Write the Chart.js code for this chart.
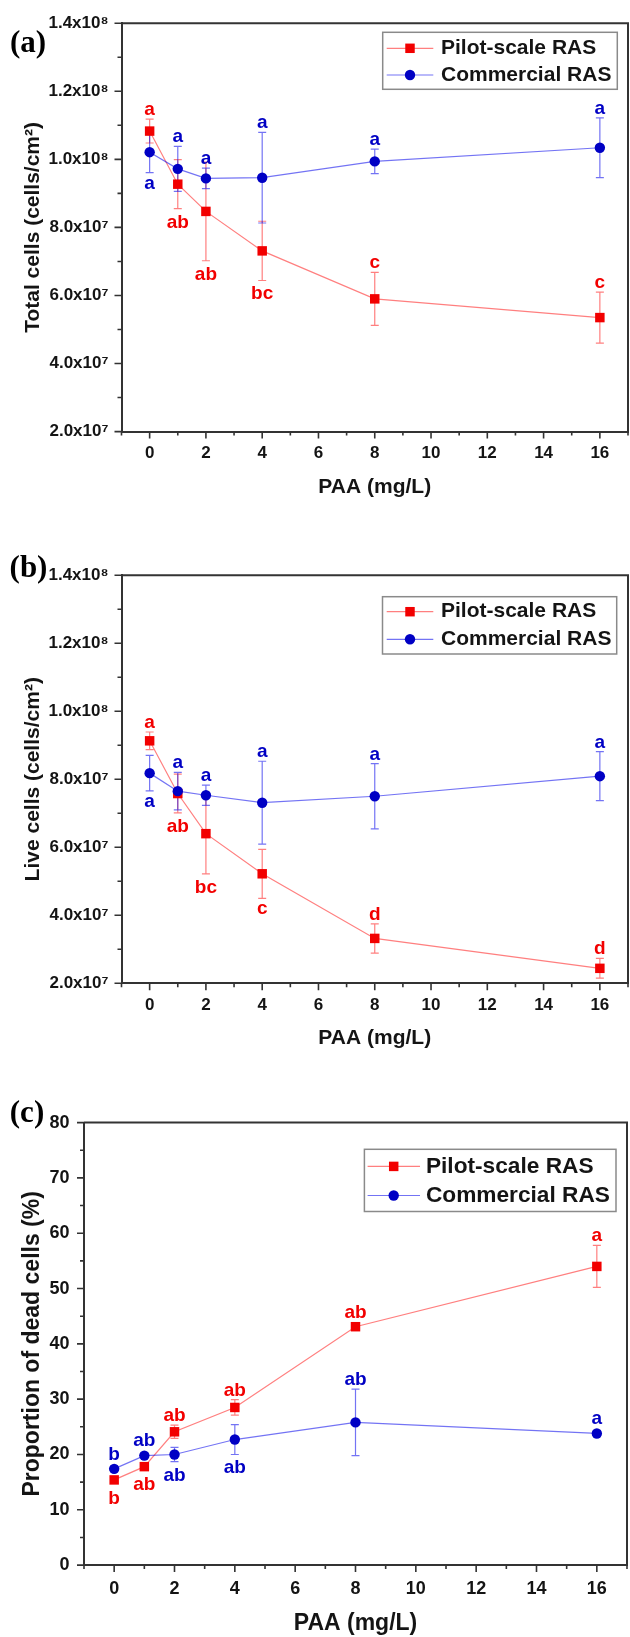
<!DOCTYPE html>
<html>
<head>
<meta charset="utf-8">
<script src="https://cdn.jsdelivr.net/npm/chart.js@4.4.1/dist/chart.umd.min.js"></script>
<style>
  html, body { margin: 0; padding: 0; background: #fff; overflow: hidden; width: 630px; height: 1637px; }
  canvas { position: absolute; left: 0; }
</style>
</head>
<body>
<canvas id="chartTotal" width="640" height="552" style="top:0px"></canvas>
<canvas id="chartLive" width="640" height="540" style="top:552px"></canvas>
<canvas id="chartDead" width="640" height="548" style="top:1092px"></canvas>
<script>
// ---------------- data ----------------
const paaDoses = [0, 1, 2, 4, 8, 16];
const seriesNames = ['Pilot-scale RAS', 'Commercial RAS'];

// (a) total cells, cells/cm²  (mean and SD)
const pilotTotal   = [1.083e8, 0.927e8, 0.847e8, 0.731e8, 0.590e8, 0.535e8];
const pilotTotalSd = [0.035e8, 0.072e8, 0.145e8, 0.087e8, 0.078e8, 0.075e8];
const commTotal    = [1.021e8, 0.972e8, 0.944e8, 0.946e8, 0.994e8, 1.034e8];
const commTotalSd  = [0.060e8, 0.066e8, 0.030e8, 0.133e8, 0.036e8, 0.088e8];
const pilotTotalLetters = ['a', 'ab', 'ab', 'bc', 'c', 'c'];
const commTotalLetters  = ['a', 'a', 'a', 'a', 'a', 'a'];

// (b) live cells, cells/cm²
const pilotLive   = [0.913e8, 0.758e8, 0.640e8, 0.522e8, 0.332e8, 0.244e8];
const pilotLiveSd = [0.026e8, 0.057e8, 0.118e8, 0.072e8, 0.043e8, 0.029e8];
const commLive    = [0.818e8, 0.765e8, 0.753e8, 0.731e8, 0.750e8, 0.809e8];
const commLiveSd  = [0.052e8, 0.055e8, 0.030e8, 0.122e8, 0.096e8, 0.072e8];
const pilotLiveLetters = ['a', 'ab', 'bc', 'c', 'd', 'd'];
const commLiveLetters  = ['a', 'a', 'a', 'a', 'a', 'a'];

// (c) proportion of dead cells, %
const pilotDead   = [15.4, 17.8, 24.1, 28.5, 43.1, 54.0];
const pilotDeadSd = [0.6, 0.7, 1.2, 1.4, 0.6, 3.8];
const commDead    = [17.4, 19.8, 20.0, 22.7, 25.8, 23.8];
const commDeadSd  = [0.5, 0.5, 1.3, 2.7, 6.0, 0.5];
const pilotDeadLetters = ['b', 'ab', 'ab', 'ab', 'ab', 'a'];
const commDeadLetters  = ['b', 'ab', 'ab', 'ab', 'ab', 'a'];

// tick labels
const doseTickValues = [0, 2, 4, 6, 8, 10, 12, 14, 16];
const doseTickLabels = ['0', '2', '4', '6', '8', '10', '12', '14', '16'];
const cellTickValues = [2e7, 4e7, 6e7, 8e7, 1.0e8, 1.2e8, 1.4e8];
const cellTickLabels = ['2.0x10⁷', '4.0x10⁷', '6.0x10⁷', '8.0x10⁷', '1.0x10⁸', '1.2x10⁸', '1.4x10⁸'];
const deadTickValues = [0, 10, 20, 30, 40, 50, 60, 70, 80];
const deadTickLabels = ['0', '10', '20', '30', '40', '50', '60', '70', '80'];

// ---------------- styling ----------------
const SANS = "'Liberation Sans', Arial, Helvetica, sans-serif";
const SERIF = "'Liberation Serif', 'Times New Roman', serif";
const INK = '#141414';
const AXIS = '#333333';
const RED = '#f20000';
const BLUE = '#0000c4';
const RED_SOFT = 'rgba(255, 0, 0, 0.5)';
const BLUE_SOFT = 'rgba(0, 0, 235, 0.55)';
const SQUARE_R = 6.7;   // rect point radius -> ~9.5px square
const CIRCLE_R = 5.2;

function labelFor(values, labels, v, step) {
  const k = values.findIndex(t => Math.abs(t - v) < step * 1e-3);
  return k >= 0 ? labels[k] : '';
}

// error bars, drawn under the markers
const errorBarPlugin = {
  id: 'errorBars',
  beforeDatasetsDraw(chart) {
    const { ctx } = chart;
    const ys = chart.scales.y;
    chart.data.datasets.forEach((ds, i) => {
      const meta = chart.getDatasetMeta(i);
      ctx.save();
      ctx.strokeStyle = ds.errorColor;
      ctx.lineWidth = 1.2;
      ds.data.forEach((pt, j) => {
        const px = meta.data[j].x;
        const top = ys.getPixelForValue(pt.y + ds.errors[j]);
        const bot = ys.getPixelForValue(pt.y - ds.errors[j]);
        ctx.beginPath();
        ctx.moveTo(px, top); ctx.lineTo(px, bot);
        ctx.moveTo(px - 4, top); ctx.lineTo(px + 4, top);
        ctx.moveTo(px - 4, bot); ctx.lineTo(px + 4, bot);
        ctx.stroke();
      });
      ctx.restore();
    });
  }
};

// significance letters above / below each point
const letterPlugin = {
  id: 'sigLetters',
  afterDatasetsDraw(chart, args, opts) {
    const { ctx } = chart;
    const ys = chart.scales.y;
    ctx.save();
    ctx.font = `bold ${opts.size}px ${SANS}`;
    ctx.textAlign = 'center';
    ctx.textBaseline = 'alphabetic';
    chart.data.datasets.forEach((ds, i) => {
      const meta = chart.getDatasetMeta(i);
      ctx.fillStyle = ds.letterColor;
      ds.data.forEach((pt, j) => {
        const txt = ds.letters[j];
        const el = meta.data[j];
        const top = Math.min(ys.getPixelForValue(pt.y + ds.errors[j]), el.y - ds.markerHalf);
        const bot = Math.max(ys.getPixelForValue(pt.y - ds.errors[j]), el.y + ds.markerHalf);
        if (ds.letterSide[j] === 'up') {
          ctx.fillText(txt, el.x, top - 4);
        } else {
          const asc = ctx.measureText(txt).actualBoundingBoxAscent;
          ctx.fillText(txt, el.x, bot + 6 + asc);
        }
      });
    });
    ctx.restore();
  }
};

// box frame plus major / minor tick marks
const framePlugin = {
  id: 'frameTicks',
  afterDraw(chart) {
    const { ctx, chartArea: a } = chart;
    ctx.save();
    ctx.strokeStyle = AXIS;
    ctx.lineWidth = 2;
    ctx.beginPath();
    ctx.moveTo(a.left, a.top); ctx.lineTo(a.right, a.top); ctx.lineTo(a.right, a.bottom);
    ctx.stroke();
    ctx.lineWidth = 1.6;
    const xs = chart.scales.x, ys = chart.scales.y;
    ctx.beginPath();
    xs.ticks.forEach(t => {
      const p = xs.getPixelForValue(t.value);
      const len = t.label !== '' ? 7 : 4;
      ctx.moveTo(p, a.bottom); ctx.lineTo(p, a.bottom + len);
    });
    ys.ticks.forEach(t => {
      const p = ys.getPixelForValue(t.value);
      const len = t.label !== '' ? 7 : 4;
      ctx.moveTo(a.left, p); ctx.lineTo(a.left - len, p);
    });
    ctx.stroke();
    ctx.restore();
  }
};

// framed legend inside the plot
const boxLegendPlugin = {
  id: 'boxLegend',
  afterDraw(chart, args, o) {
    const { ctx } = chart;
    const [x0, y0, x1, y1] = o.box;
    ctx.save();
    ctx.fillStyle = '#fff';
    ctx.fillRect(x0, y0, x1 - x0, y1 - y0);
    ctx.strokeStyle = '#8a8a8a';
    ctx.lineWidth = 1.5;
    ctx.strokeRect(x0, y0, x1 - x0, y1 - y0);
    ctx.font = `bold ${o.size}px ${SANS}`;
    ctx.textAlign = 'left';
    ctx.textBaseline = 'middle';
    chart.data.datasets.forEach((ds, i) => {
      const ry = o.rows[i];
      ctx.strokeStyle = ds.borderColor;
      ctx.lineWidth = 1.2;
      ctx.beginPath(); ctx.moveTo(o.line[0], ry); ctx.lineTo(o.line[1], ry); ctx.stroke();
      ctx.fillStyle = ds.pointBackgroundColor;
      ctx.beginPath();
      if (ds.pointStyle === 'rect') {
        const h = ds.markerHalf;
        ctx.rect(o.marker - h, ry - h, 2 * h, 2 * h);
      } else {
        ctx.arc(o.marker, ry, ds.markerHalf, 0, Math.PI * 2);
      }
      ctx.fill();
      ctx.fillStyle = INK;
      ctx.fillText(ds.label, o.text, ry);
    });
    ctx.restore();
  }
};

// panel letter (a), (b), (c)
const panelTagPlugin = {
  id: 'panelTag',
  afterDraw(chart, args, o) {
    const { ctx } = chart;
    ctx.save();
    ctx.font = `bold ${o.size}px ${SERIF}`;
    ctx.fillStyle = '#000';
    ctx.textAlign = 'center';
    ctx.textBaseline = 'middle';
    ctx.fillText(o.text, o.x, o.y);
    ctx.restore();
  }
};

function makeDataset(i, values, sds, letters, sides) {
  const pilot = i === 0;
  return {
    label: seriesNames[i],
    data: paaDoses.map((d, j) => ({ x: d, y: values[j] })),
    errors: sds,
    letters: letters,
    letterSide: sides,
    letterColor: pilot ? RED : BLUE,
    errorColor: pilot ? RED_SOFT : BLUE_SOFT,
    borderColor: pilot ? RED_SOFT : BLUE_SOFT,
    borderWidth: 1.2,
    pointStyle: pilot ? 'rect' : 'circle',
    pointRadius: pilot ? SQUARE_R : CIRCLE_R,
    pointHoverRadius: pilot ? SQUARE_R : CIRCLE_R,
    markerHalf: pilot ? SQUARE_R * Math.SQRT1_2 : CIRCLE_R,
    pointBackgroundColor: pilot ? RED : BLUE,
    pointBorderColor: pilot ? RED : BLUE,
    pointBorderWidth: 0,
    tension: 0,
    fill: false,
    clip: false,
    order: pilot ? 1 : 0
  };
}

function makePanel(p) {
  const H = p.height, W = 640;
  new Chart(document.getElementById(p.id), {
    type: 'line',
    data: {
      datasets: [
        makeDataset(0, p.series[0], p.sds[0], p.letters[0], p.sides[0]),
        makeDataset(1, p.series[1], p.sds[1], p.letters[1], p.sides[1])
      ]
    },
    options: {
      responsive: false,
      devicePixelRatio: 1,
      animation: false,
      events: [],
      layout: { padding: { top: p.area.top, right: W - p.area.right, left: 0, bottom: 0 } },
      scales: {
        x: {
          type: 'linear',
          min: -1, max: 17,
          grid: { display: false, drawTicks: false },
          border: { display: true, color: AXIS, width: 2 },
          ticks: {
            stepSize: 1, autoSkip: false, maxRotation: 0, minRotation: 0, maxTicksLimit: 100,
            padding: p.xTickPad, color: INK,
            font: { family: SANS, size: p.fonts.tick, weight: 'bold' },
            callback: v => labelFor(doseTickValues, doseTickLabels, v, 1)
          },
          title: {
            display: true, text: 'PAA (mg/L)', color: INK,
            font: { family: SANS, size: p.fonts.title, weight: 'bold' },
            padding: { top: 0, bottom: p.xTitlePad }
          },
          afterFit: s => { s.height = H - p.area.bottom; }
        },
        y: {
          type: 'linear',
          min: p.yMin, max: p.yMax,
          grid: { display: false, drawTicks: false },
          border: { display: true, color: AXIS, width: 2 },
          ticks: {
            stepSize: p.yStep, autoSkip: false, maxTicksLimit: 100,
            padding: p.yTickPad, color: INK,
            font: { family: SANS, size: p.fonts.tick, weight: 'bold' },
            callback: v => labelFor(p.yTickValues, p.yTickLabels, v, p.yStep)
          },
          title: {
            display: true, text: p.yTitle, color: INK,
            font: { family: SANS, size: p.fonts.title, weight: 'bold' },
            padding: { top: p.yTitlePad, bottom: 0 }
          },
          afterFit: s => { s.width = p.area.left; }
        }
      },
      plugins: {
        legend: { display: false },
        tooltip: { enabled: false },
        sigLetters: { size: 19 },
        boxLegend: Object.assign({ size: p.fonts.legend }, p.legend),
        panelTag: { text: p.tag, x: p.tagPos[0], y: p.tagPos[1], size: 31 }
      }
    },
    plugins: [errorBarPlugin, letterPlugin, framePlugin, boxLegendPlugin, panelTagPlugin]
  });
}

const sidesCellsPilot = ['up', 'down', 'down', 'down', 'up', 'up'];
const sidesCellsComm  = ['down', 'up', 'up', 'up', 'up', 'up'];

makePanel({
  id: 'chartTotal', tag: '(a)', tagPos: [28, 44], height: 552,
  yTitle: 'Total cells (cells/cm²)', yMin: 2e7, yMax: 1.4e8, yStep: 1e7,
  yTickValues: cellTickValues, yTickLabels: cellTickLabels,
  series: [pilotTotal, commTotal], sds: [pilotTotalSd, commTotalSd],
  letters: [pilotTotalLetters, commTotalLetters], sides: [sidesCellsPilot, sidesCellsComm],
  area: { left: 121.5, right: 634, top: 19.3, bottom: 431.6 },
  fonts: { tick: 17, title: 21, legend: 21 },
  xTickPad: 12, yTickPad: 13, yTitlePad: 20.4, xTitlePad: 52.4,
  legend: { box: [382.7, 32.3, 617.3, 89.3], rows: [48.3, 75], line: [386.7, 433.3], marker: 410, text: 441 }
});

makePanel({
  id: 'chartLive', tag: '(b)', tagPos: [28.5, 17], height: 540,
  yTitle: 'Live cells (cells/cm²)', yMin: 2e7, yMax: 1.4e8, yStep: 1e7,
  yTickValues: cellTickValues, yTickLabels: cellTickLabels,
  series: [pilotLive, commLive], sds: [pilotLiveSd, commLiveSd],
  letters: [pilotLiveLetters, commLiveLetters], sides: [sidesCellsPilot, sidesCellsComm],
  area: { left: 121.5, right: 634, top: 19, bottom: 431.3 },
  fonts: { tick: 17, title: 21, legend: 21 },
  xTickPad: 12, yTickPad: 13, yTitlePad: 20.4, xTitlePad: 40.7,
  legend: { box: [382.5, 44.7, 616.7, 102], rows: [59.7, 87.3], line: [386.7, 433.3], marker: 410, text: 441 }
});

makePanel({
  id: 'chartDead', tag: '(c)', tagPos: [27, 21.8], height: 548,
  yTitle: 'Proportion of dead cells (%)', yMin: 0, yMax: 80, yStep: 5,
  yTickValues: deadTickValues, yTickLabels: deadTickLabels,
  series: [pilotDead, commDead], sds: [pilotDeadSd, commDeadSd],
  letters: [pilotDeadLetters, commDeadLetters],
  sides: [['down', 'down', 'up', 'up', 'up', 'up'], ['up', 'up', 'down', 'down', 'up', 'up']],
  area: { left: 84, right: 634, top: 30.6, bottom: 473.1 },
  fonts: { tick: 18, title: 23, legend: 22.7 },
  xTickPad: 13, yTickPad: 14.6, yTitlePad: 19.2, xTitlePad: 2.5,
  legend: { box: [364.4, 57.3, 616, 119.5], rows: [74.4, 103.5], line: [367.6, 420], marker: 393.7, text: 425.9 }
});
</script>
</body>
</html>
